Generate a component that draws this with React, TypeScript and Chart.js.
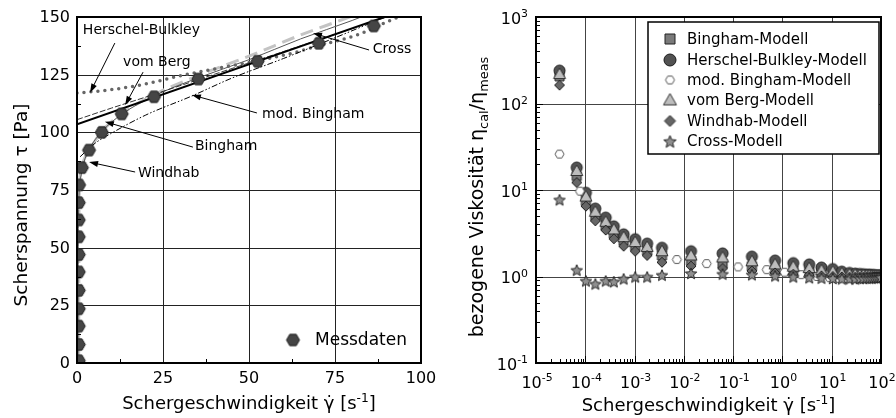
import React, { useEffect, useRef } from "react";
import { Chart, registerables } from "chart.js";

Chart.register(...registerables);

const FONT = '"DejaVu Sans", sans-serif';

// ---------------- Left panel: flow curve ----------------
const messRate = [0.5, 0.5, 0.5, 0.5, 0.5, 0.5, 0.5, 0.5, 0.5, 0.5, 0.6, 1.4, 3.5, 7.2, 13, 22.4, 35.3, 52.5, 70.3, 86.3];
const messStress = [1, 8, 16, 23.5, 31.5, 39.5, 47, 54.7, 62, 69.5, 77.2, 84.7, 92.3, 100, 108, 115.4, 123.1, 130.8, 138.6, 146.1];

const binghamRate = [0, 100];
const binghamStress = [103.5, 155.5];

const hbRate = [0, 10, 20, 30, 40, 52.5, 63, 70, 82, 91, 96];
const hbStress = [117, 118.5, 121, 124.5, 127.5, 131, 134.5, 137.5, 142.5, 148.5, 151.5];

const vomBergRate = [0, 10, 20, 40, 60, 80, 100];
const vomBergStress = [105.5, 110.5, 115.3, 125.2, 135, 145, 155];

const modBinghamRate = [0.9, 5, 10, 20, 33, 45, 60, 75, 88, 93];
const modBinghamStress = [89.4, 95, 99.6, 107.5, 115.5, 123.5, 132, 141, 149, 152];

const windhabRate = [0.5, 0.6, 1, 2, 3.5, 7, 13, 22, 35, 50, 65, 80, 84];
const windhabStress = [0, 70, 82, 88, 92, 100, 108, 116, 124.5, 133, 142.2, 150.5, 153];

const crossRate = [0.3, 0.4, 1, 2, 3.5, 7, 13, 22, 35, 50, 65, 80, 86];
const crossStress = [0, 60, 80, 87, 92.5, 100, 107.8, 115.5, 123.5, 131.5, 140.5, 148.5, 152];

const leftXTicks = [0, 25, 50, 75, 100];
const leftYTicks = [0, 25, 50, 75, 100, 125, 150];

// ---------------- Right panel: relative viscosity ----------------
const shearRate = [3e-5, 6.7e-5, 1.03e-4, 1.6e-4, 2.6e-4, 3.8e-4, 6e-4, 1.03e-3, 1.8e-3, 3.6e-3, 1.4e-2, 6.1e-2, 0.24, 0.71, 1.66, 3.5, 6.2, 10.5, 16, 23, 30, 37, 44, 51, 58, 65, 72, 79, 86, 93, 100];
const binghamRatio = [206, 14.5, 7.5, 5.0, 3.9, 3.15, 2.6, 2.25, 2.0, 1.75, 1.53, 1.41, 1.32, 1.22, 1.17, 1.13, 1.1, 1.07, 1.05, 1.03, 1.02, 1.01, 1.01, 1.0, 1.0, 1.0, 1.0, 1.0, 1.0, 1.0, 1.0];
const hbRatio = [240, 18.2, 9.3, 6.1, 4.8, 3.8, 3.07, 2.7, 2.4, 2.15, 1.96, 1.85, 1.7, 1.53, 1.43, 1.38, 1.27, 1.22, 1.14, 1.1, 1.08, 1.07, 1.06, 1.05, 1.05, 1.04, 1.04, 1.03, 1.03, 1.03, 1.03];
const vomBergRatio = [219, 16.6, 8.4, 5.6, 4.3, 3.5, 2.85, 2.5, 2.2, 1.96, 1.75, 1.66, 1.5, 1.38, 1.3, 1.25, 1.18, 1.14, 1.09, 1.06, 1.05, 1.04, 1.04, 1.03, 1.03, 1.02, 1.02, 1.02, 1.02, 1.02, 1.02];
const windhabRatio = [163, 12.2, 6.5, 4.4, 3.44, 2.73, 2.24, 1.96, 1.75, 1.46, 1.32, 1.24, 1.16, 1.1, 1.06, 1.04, 1.02, 1.0, 0.99, 0.98, 0.98, 0.98, 0.98, 0.98, 0.98, 0.98, 0.99, 0.99, 0.99, 0.99, 0.99];
const crossRatio = [7.8, 1.2, 0.9, 0.83, 0.9, 0.88, 0.95, 1.0, 1.0, 1.05, 1.1, 1.08, 1.06, 1.03, 1.0, 0.98, 0.97, 0.96, 0.95, 0.95, 0.95, 0.96, 0.96, 0.97, 0.97, 0.97, 0.98, 0.98, 0.98, 0.99, 0.99];

const modBinghamShearRate = [3e-5, 7.8e-5, 7.2e-3, 2.9e-2, 0.126, 0.48, 1.1, 2.4, 5, 9, 14, 20, 27, 34, 41, 48, 55, 62, 69, 76, 83, 90, 97];
const modBinghamRatio = [26, 9.7, 1.57, 1.41, 1.29, 1.2, 1.12, 1.05, 1.0, 0.97, 0.95, 0.95, 0.95, 0.95, 0.95, 0.96, 0.96, 0.96, 0.96, 0.97, 0.97, 0.97, 0.97];

const rightXExponents = [-5, -4, -3, -2, -1, 0, 1, 2];
const rightYExponents = [-1, 0, 1, 2, 3];

const legendLabels = ["Bingham-Modell", "Herschel-Bulkley-Modell", "mod. Bingham-Modell", "vom Berg-Modell", "Windhab-Modell", "Cross-Modell"];

// ---------------- helpers ----------------
type Shape = "circle" | "square" | "hexagon" | "triangle" | "diamond" | "star";

function makeMarker(shape: Shape, d: number, fill: string, stroke: string, lw: number): HTMLCanvasElement {
  const pad = Math.ceil(lw) + 1;
  const size = Math.ceil(d + pad * 2);
  const c = document.createElement("canvas");
  c.width = size;
  c.height = size;
  const ctx = c.getContext("2d")!;
  const cx = size / 2;
  const cy = size / 2;
  const r = d / 2;
  ctx.beginPath();
  if (shape === "circle") {
    ctx.arc(cx, cy, r, 0, Math.PI * 2);
  } else if (shape === "square") {
    ctx.rect(cx - r, cy - r, 2 * r, 2 * r);
  } else if (shape === "hexagon") {
    for (let i = 0; i < 6; i++) {
      const a = (i * Math.PI) / 3;
      const px = cx + r * Math.cos(a);
      const py = cy + r * Math.sin(a);
      if (i === 0) ctx.moveTo(px, py);
      else ctx.lineTo(px, py);
    }
  } else if (shape === "triangle") {
    ctx.moveTo(cx, cy - r);
    ctx.lineTo(cx + r, cy + r * 0.75);
    ctx.lineTo(cx - r, cy + r * 0.75);
  } else if (shape === "diamond") {
    ctx.moveTo(cx, cy - r);
    ctx.lineTo(cx + r, cy);
    ctx.lineTo(cx, cy + r);
    ctx.lineTo(cx - r, cy);
  } else if (shape === "star") {
    for (let i = 0; i < 10; i++) {
      const a = -Math.PI / 2 + (i * Math.PI) / 5;
      const rr = i % 2 === 0 ? r : r * 0.45;
      const px = cx + rr * Math.cos(a);
      const py = cy + 1 + rr * Math.sin(a);
      if (i === 0) ctx.moveTo(px, py);
      else ctx.lineTo(px, py);
    }
  }
  ctx.closePath();
  ctx.fillStyle = fill;
  ctx.fill();
  ctx.lineWidth = lw;
  ctx.strokeStyle = stroke;
  ctx.stroke();
  return c;
}

type Seg = { t: string; k?: "sup" | "sub" };

function segFont(size: number, k?: string) {
  return `${k ? size * 0.68 : size}px ${FONT}`;
}

function richWidth(ctx: CanvasRenderingContext2D, segs: Seg[], size: number) {
  let w = 0;
  for (const s of segs) {
    ctx.font = segFont(size, s.k);
    w += ctx.measureText(s.t).width;
  }
  return w;
}

function drawRich(ctx: CanvasRenderingContext2D, segs: Seg[], x: number, y: number, size: number, align: "left" | "center" | "right") {
  const w = richWidth(ctx, segs, size);
  let cx = align === "left" ? x : align === "center" ? x - w / 2 : x - w;
  const base = y + size * 0.36;
  ctx.textAlign = "left";
  ctx.textBaseline = "alphabetic";
  ctx.fillStyle = "#000";
  for (const s of segs) {
    ctx.font = segFont(size, s.k);
    const dy = s.k === "sup" ? -size * 0.42 : s.k === "sub" ? size * 0.28 : 0;
    ctx.fillText(s.t, cx, base + dy);
    cx += ctx.measureText(s.t).width;
  }
}

function arrow(ctx: CanvasRenderingContext2D, x1: number, y1: number, x2: number, y2: number) {
  const ang = Math.atan2(y2 - y1, x2 - x1);
  const hl = 9;
  const hw = 3;
  ctx.strokeStyle = "#000";
  ctx.lineWidth = 1;
  ctx.beginPath();
  ctx.moveTo(x1, y1);
  ctx.lineTo(x2 - hl * 0.8 * Math.cos(ang), y2 - hl * 0.8 * Math.sin(ang));
  ctx.stroke();
  ctx.fillStyle = "#000";
  ctx.beginPath();
  ctx.moveTo(x2, y2);
  ctx.lineTo(x2 - hl * Math.cos(ang) + hw * Math.sin(ang), y2 - hl * Math.sin(ang) - hw * Math.cos(ang));
  ctx.lineTo(x2 - hl * Math.cos(ang) - hw * Math.sin(ang), y2 - hl * Math.sin(ang) + hw * Math.cos(ang));
  ctx.closePath();
  ctx.fill();
}

const xTitle: Seg[] = [{ t: "Schergeschwindigkeit \u03B3\u0307 [s" }, { t: "-1", k: "sup" }, { t: "]" }];

// annotation layout for the left panel (data coordinates of text anchor, arrow start and tip)
const leftNotes = [
  { text: "Herschel-Bulkley", tx: 1.7, ty: 144.3, fx: 11.0, fy: 138.7, ax: 3.8, ay: 117.2 },
  { text: "vom Berg", tx: 13.4, ty: 130.5, fx: 19.2, fy: 126.1, ax: 14, ay: 111.8 },
  { text: "mod. Bingham", tx: 53.8, ty: 108, fx: 52.3, fy: 108.4, ax: 33.4, ay: 116.2 },
  { text: "Bingham", tx: 34.3, ty: 94.1, fx: 33.7, fy: 93.6, ax: 8.1, ay: 104.6 },
  { text: "Windhab", tx: 17.7, ty: 82.4, fx: 16.9, fy: 82.8, ax: 3.5, ay: 87.1 },
  { text: "Cross", tx: 86, ty: 136.1, fx: 84.9, fy: 135.7, ax: 68.6, ay: 143 },
];

function pts(xs: number[], ys: number[]) {
  return xs.map((x, i) => ({ x, y: ys[i] }));
}

function crisp(v: number) {
  return Math.round(v) + 0.5;
}

export default function App() {
  const leftRef = useRef<HTMLCanvasElement>(null);
  const rightRef = useRef<HTMLCanvasElement>(null);

  useEffect(() => {
    const hexMess = makeMarker("hexagon", 13, "#454545", "#1e1e1e", 1);

    const leftPlugin = {
      id: "leftDecor",
      beforeDatasetsDraw(chart: any) {
        const { ctx, chartArea: a, scales } = chart;
        const xs = scales.x;
        const ys = scales.y;
        ctx.save();
        ctx.strokeStyle = "#222";
        ctx.lineWidth = 1;
        ctx.beginPath();
        for (const v of [25, 50, 75]) {
          const px = crisp(xs.getPixelForValue(v));
          ctx.moveTo(px, a.top);
          ctx.lineTo(px, a.bottom);
        }
        for (const v of [25, 50, 75, 100, 125]) {
          const py = crisp(ys.getPixelForValue(v));
          ctx.moveTo(a.left, py);
          ctx.lineTo(a.right, py);
        }
        ctx.stroke();
        ctx.restore();
      },
      afterDatasetsDraw(chart: any) {
        const { ctx, chartArea: a, scales } = chart;
        const xs = scales.x;
        const ys = scales.y;
        ctx.save();
        // minor ticks
        ctx.strokeStyle = "#000";
        ctx.lineWidth = 1;
        ctx.beginPath();
        for (let v = 12.5; v < 150; v += 25) {
          const py = crisp(ys.getPixelForValue(v));
          ctx.moveTo(a.left, py);
          ctx.lineTo(a.left + 4, py);
        }
        for (let v = 12.5; v < 100; v += 25) {
          const px = crisp(xs.getPixelForValue(v));
          ctx.moveTo(px, a.bottom);
          ctx.lineTo(px, a.bottom - 4);
        }
        ctx.stroke();
        // frame
        ctx.lineWidth = 2;
        ctx.strokeRect(a.left, a.top, a.right - a.left, a.bottom - a.top);
        // tick labels
        ctx.fillStyle = "#000";
        ctx.font = `16px ${FONT}`;
        ctx.textAlign = "right";
        ctx.textBaseline = "middle";
        for (const v of leftYTicks) ctx.fillText(String(v), a.left - 7, ys.getPixelForValue(v) + 1);
        ctx.textAlign = "center";
        for (const v of leftXTicks) ctx.fillText(String(v), xs.getPixelForValue(v), a.bottom + 16);
        // axis titles
        drawRich(ctx, xTitle, (a.left + a.right) / 2, 403, 18, "center");
        ctx.save();
        ctx.translate(20, 205);
        ctx.rotate(-Math.PI / 2);
        drawRich(ctx, [{ t: "Scherspannung \u03C4 [Pa]" }], 0, 0, 18.5, "center");
        ctx.restore();
        // annotations
        for (const n of leftNotes) {
          ctx.font = `14px ${FONT}`;
          ctx.fillStyle = "#000";
          ctx.textAlign = "left";
          ctx.textBaseline = "middle";
          ctx.fillText(n.text, xs.getPixelForValue(n.tx), ys.getPixelForValue(n.ty));
          arrow(ctx, xs.getPixelForValue(n.fx), ys.getPixelForValue(n.fy), xs.getPixelForValue(n.ax), ys.getPixelForValue(n.ay));
        }
        // legend
        ctx.drawImage(hexMess, 293 - hexMess.width / 2, 340 - hexMess.height / 2);
        ctx.font = `17px ${FONT}`;
        ctx.textAlign = "left";
        ctx.textBaseline = "middle";
        ctx.fillStyle = "#000";
        ctx.fillText("Messdaten", 315, 341);
        ctx.restore();
      },
    };

    const lineDs = (label: string, xs: number[], ys: number[], color: string, width: number, dash: number[], cap: string, order: number) => ({
      label,
      data: pts(xs, ys),
      showLine: true,
      pointRadius: 0,
      borderColor: color,
      borderWidth: width,
      borderDash: dash,
      borderCapStyle: cap,
      cubicInterpolationMode: "monotone",
      fill: false,
      order,
    });

    const left = new Chart(leftRef.current!, {
      type: "scatter",
      data: {
        datasets: [
          {
            label: "Messdaten",
            data: pts(messRate, messStress),
            pointStyle: hexMess,
            pointRadius: 6,
            clip: 0,
            order: 0,
          } as any,
          lineDs("Bingham", binghamRate, binghamStress, "#000", 2, [], "butt", 2),
          lineDs("vom Berg", vomBergRate, vomBergStress, "#333", 1, [6, 2], "butt", 3),
          lineDs("mod. Bingham", modBinghamRate, modBinghamStress, "#000", 1, [6, 2, 1.5, 2, 1.5, 2], "butt", 4),
          lineDs("Herschel-Bulkley", hbRate, hbStress, "#666", 3.5, [0, 7], "round", 5),
          lineDs("Cross", crossRate, crossStress, "#555", 1, [], "butt", 6),
          lineDs("Windhab", windhabRate, windhabStress, "#c4c4c4", 3, [13, 7], "butt", 7),
        ],
      },
      options: {
        responsive: false,
        animation: false,
        events: [],
        layout: { padding: { left: 77, right: 27, top: 17, bottom: 55 } },
        plugins: { legend: { display: false }, tooltip: { enabled: false } },
        scales: {
          x: { type: "linear", min: 0, max: 100, display: false },
          y: { type: "linear", min: 0, max: 150, display: false },
        },
      } as any,
      plugins: [leftPlugin],
    } as any);

    // right panel markers
    const mk = {
      square: makeMarker("square", 9, "#7a7a7a", "#222", 1),
      circle: makeMarker("circle", 11, "#525252", "#1a1a1a", 1),
      hexagon: makeMarker("hexagon", 9, "#ffffff", "#555", 1),
      triangle: makeMarker("triangle", 12, "#bdbdbd", "#333", 1),
      diamond: makeMarker("diamond", 10, "#666", "#222", 1),
      star: makeMarker("star", 12, "#8f8f8f", "#222", 1),
    };
    const lg = [
      makeMarker("square", 10, "#7a7a7a", "#222", 1),
      makeMarker("circle", 12, "#525252", "#1a1a1a", 1),
      makeMarker("hexagon", 9, "#ffffff", "#555", 1),
      makeMarker("triangle", 13, "#bdbdbd", "#333", 1),
      makeMarker("diamond", 11, "#666", "#222", 1),
      makeMarker("star", 13, "#8f8f8f", "#222", 1),
    ];

    const rightPlugin = {
      id: "rightDecor",
      beforeDatasetsDraw(chart: any) {
        const { ctx, chartArea: a, scales } = chart;
        const xs = scales.x;
        const ys = scales.y;
        ctx.save();
        ctx.strokeStyle = "#444";
        ctx.lineWidth = 1;
        ctx.beginPath();
        for (const e of rightXExponents.slice(1, -1)) {
          const px = crisp(xs.getPixelForValue(Math.pow(10, e)));
          ctx.moveTo(px, a.top);
          ctx.lineTo(px, a.bottom);
        }
        for (const e of rightYExponents.slice(1, -1)) {
          const py = crisp(ys.getPixelForValue(Math.pow(10, e)));
          ctx.moveTo(a.left, py);
          ctx.lineTo(a.right, py);
        }
        ctx.stroke();
        ctx.restore();
      },
      afterDatasetsDraw(chart: any) {
        const { ctx, chartArea: a, scales } = chart;
        const xs = scales.x;
        const ys = scales.y;
        ctx.save();
        ctx.strokeStyle = "#000";
        ctx.lineWidth = 1;
        ctx.beginPath();
        for (let i = 0; i < rightYExponents.length; i++) {
          const e = rightYExponents[i];
          const py = crisp(ys.getPixelForValue(Math.pow(10, e)));
          ctx.moveTo(a.left, py);
          ctx.lineTo(a.left + 7, py);
          if (i < rightYExponents.length - 1) {
            for (let k = 2; k <= 9; k++) {
              const pm = crisp(ys.getPixelForValue(k * Math.pow(10, e)));
              ctx.moveTo(a.left, pm);
              ctx.lineTo(a.left + 4, pm);
            }
          }
        }
        for (let i = 0; i < rightXExponents.length; i++) {
          const e = rightXExponents[i];
          const px = crisp(xs.getPixelForValue(Math.pow(10, e)));
          ctx.moveTo(px, a.bottom);
          ctx.lineTo(px, a.bottom - 7);
          if (i < rightXExponents.length - 1) {
            for (let k = 2; k <= 9; k++) {
              const pm = crisp(xs.getPixelForValue(k * Math.pow(10, e)));
              ctx.moveTo(pm, a.bottom);
              ctx.lineTo(pm, a.bottom - 4);
            }
          }
        }
        ctx.stroke();
        ctx.lineWidth = 2;
        ctx.strokeRect(a.left, a.top, a.right - a.left, a.bottom - a.top);
        // tick labels
        for (const e of rightYExponents) {
          drawRich(ctx, [{ t: "10" }, { t: String(e), k: "sup" }], a.left - 8, ys.getPixelForValue(Math.pow(10, e)) + 1, 16, "right");
        }
        for (const e of rightXExponents) {
          drawRich(ctx, [{ t: "10" }, { t: String(e), k: "sup" }], xs.getPixelForValue(Math.pow(10, e)) + 1, a.bottom + 19, 16, "center");
        }
        // titles
        drawRich(ctx, xTitle, (a.left + a.right) / 2, 405, 18, "center");
        ctx.save();
        ctx.translate(28, 197);
        ctx.rotate(-Math.PI / 2);
        drawRich(
          ctx,
          [{ t: "bezogene Viskosität \u03B7" }, { t: "cal", k: "sub" }, { t: "/\u03B7" }, { t: "meas", k: "sub" }],
          0,
          0,
          19,
          "center"
        );
        ctx.restore();
        // legend box
        ctx.fillStyle = "#fff";
        ctx.fillRect(200, 22, 231, 132);
        ctx.lineWidth = 1.5;
        ctx.strokeStyle = "#000";
        ctx.strokeRect(200, 22, 231, 132);
        const rows = [39, 60, 80, 100, 121, 141];
        for (let i = 0; i < legendLabels.length; i++) {
          const img = lg[i];
          ctx.drawImage(img, 222 - img.width / 2, rows[i] - img.height / 2);
          ctx.font = `15px ${FONT}`;
          ctx.fillStyle = "#000";
          ctx.textAlign = "left";
          ctx.textBaseline = "middle";
          ctx.fillText(legendLabels[i], 239, rows[i] + 1);
        }
        ctx.restore();
      },
    };

    const sc = (label: string, xs: number[], ys: number[], img: HTMLCanvasElement, order: number) =>
      ({
        label,
        data: pts(xs, ys),
        pointStyle: img,
        pointRadius: 5,
        clip: 0,
        order,
      } as any);

    const right = new Chart(rightRef.current!, {
      type: "scatter",
      data: {
        datasets: [
          sc("Bingham-Modell", shearRate, binghamRatio, mk.square, 6),
          sc("Herschel-Bulkley-Modell", shearRate, hbRatio, mk.circle, 5),
          sc("mod. Bingham-Modell", modBinghamShearRate, modBinghamRatio, mk.hexagon, 4),
          sc("vom Berg-Modell", shearRate, vomBergRatio, mk.triangle, 3),
          sc("Windhab-Modell", shearRate, windhabRatio, mk.diamond, 2),
          sc("Cross-Modell", shearRate, crossRatio, mk.star, 1),
        ],
      },
      options: {
        responsive: false,
        animation: false,
        events: [],
        layout: { padding: { left: 88, right: 15, top: 17, bottom: 55 } },
        plugins: { legend: { display: false }, tooltip: { enabled: false } },
        scales: {
          x: { type: "logarithmic", min: 1e-5, max: 100, display: false },
          y: { type: "logarithmic", min: 0.1, max: 1000, display: false },
        },
      } as any,
      plugins: [rightPlugin],
    } as any);

    return () => {
      left.destroy();
      right.destroy();
    };
  }, []);

  return (
    <div style={{ position: "fixed", left: 0, top: 0, width: 896, height: 418, background: "#fff" }}>
      <canvas ref={leftRef} width={448} height={418} style={{ position: "absolute", left: 0, top: 0, width: 448, height: 418 }} />
      <canvas ref={rightRef} width={448} height={418} style={{ position: "absolute", left: 448, top: 0, width: 448, height: 418 }} />
    </div>
  );
}
